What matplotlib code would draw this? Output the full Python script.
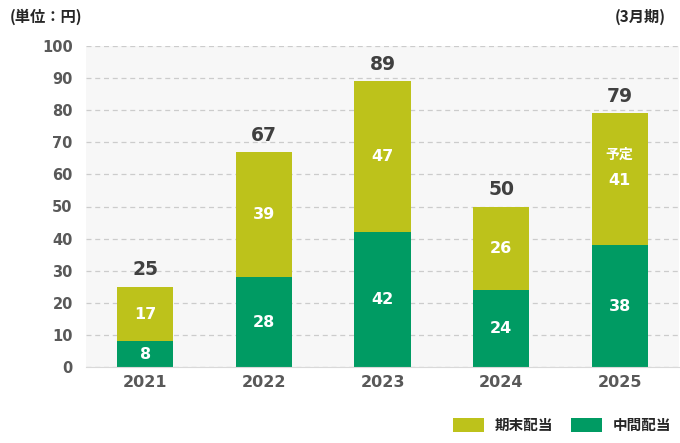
import matplotlib
matplotlib.use("Agg")
import matplotlib.pyplot as plt
from matplotlib.patches import Patch

plt.rcParams['font.family'] = ['DejaVu Sans', 'Noto Sans CJK JP']
JP = ['Noto Sans CJK JP', 'DejaVu Sans']

years = ['2021', '2022', '2023', '2024', '2025']
interim = [8, 28, 42, 24, 38]
year_end = [17, 39, 47, 26, 41]
totals = [25, 67, 89, 50, 79]
yticks = list(range(0, 101, 10))

c_end = '#BDC21B'
c_int = '#009B63'
txt = '#404040'

fig = plt.figure(figsize=(6.8, 4.43), dpi=100)
ax = fig.add_axes([86 / 680, 1 - 367 / 443, 593 / 680, 321 / 443])
ax.set_facecolor('#F7F7F7')

x = list(range(len(years)))
w = 0.473
ax.bar(x, interim, width=w, color=c_int, zorder=3)
ax.bar(x, year_end, width=w, bottom=interim, color=c_end, zorder=3)

for i in x:
    ax.text(i, interim[i] / 2, str(interim[i]), ha='center', va='center',
            color='white', fontsize=11.5, fontweight='bold', zorder=4)
    mid = interim[i] + year_end[i] / 2
    if i == 4:
        ax.text(i, mid - 0.5, str(year_end[i]), ha='center', va='center',
                color='white', fontsize=11.5, fontweight='bold', zorder=4)
        ax.text(i, mid + 7.5, '予定', ha='center', va='center', family=JP,
                color='white', fontsize=10, fontweight='bold', zorder=4)
    else:
        ax.text(i, mid, str(year_end[i]), ha='center', va='center',
                color='white', fontsize=11.5, fontweight='bold', zorder=4)
    ax.text(i, totals[i] + 2.3, str(totals[i]), ha='center', va='bottom',
            color=txt, fontsize=13.5, fontweight='bold', zorder=4)

ax.set_xlim(-0.5, 4.5)
ax.set_ylim(0, 100)
ax.set_yticks(yticks)
ax.set_xticks(x)
ax.set_xticklabels(years)
ax.yaxis.grid(True, linestyle=(0, (4, 3)), color='#CCCCCC', linewidth=0.9, zorder=1)
for s in ['top', 'right', 'left']:
    ax.spines[s].set_visible(False)
ax.spines['bottom'].set_color('#D9D9D9')
ax.spines['bottom'].set_zorder(5)
ax.tick_params(axis='both', length=0, colors='#595959', labelsize=10.5)
ax.tick_params(axis='y', pad=9.5)
ax.tick_params(axis='x', pad=6)
for lab in ax.get_xticklabels():
    lab.set_fontweight('bold')
    lab.set_fontsize(11.5)
for lab in ax.get_yticklabels():
    lab.set_fontweight('bold')

fig.text(10 / 680, 1 - 17 / 443, '(単位：円)', ha='left', va='center', fontsize=11,
         fontweight='bold', color='#262626', family=JP)
fig.text(666 / 680, 1 - 17 / 443, '(3月期)', ha='right', va='center', fontsize=11,
         fontweight='bold', color='#262626', family=JP)

handles = [Patch(facecolor=c_end, label='期末配当'), Patch(facecolor=c_int, label='中間配当')]
leg = fig.legend(handles=handles, loc='center right', bbox_to_anchor=(683 / 680, 1 - 425 / 443),
                 ncol=2, frameon=False, handlelength=2.12, handleheight=1.17,
                 columnspacing=1.2, handletextpad=0.75, borderpad=0.3,
                 prop={'family': JP, 'weight': 'bold', 'size': 10.5})
for t in leg.get_texts():
    t.set_color('#262626')

fig.savefig('out.png', dpi=100)
